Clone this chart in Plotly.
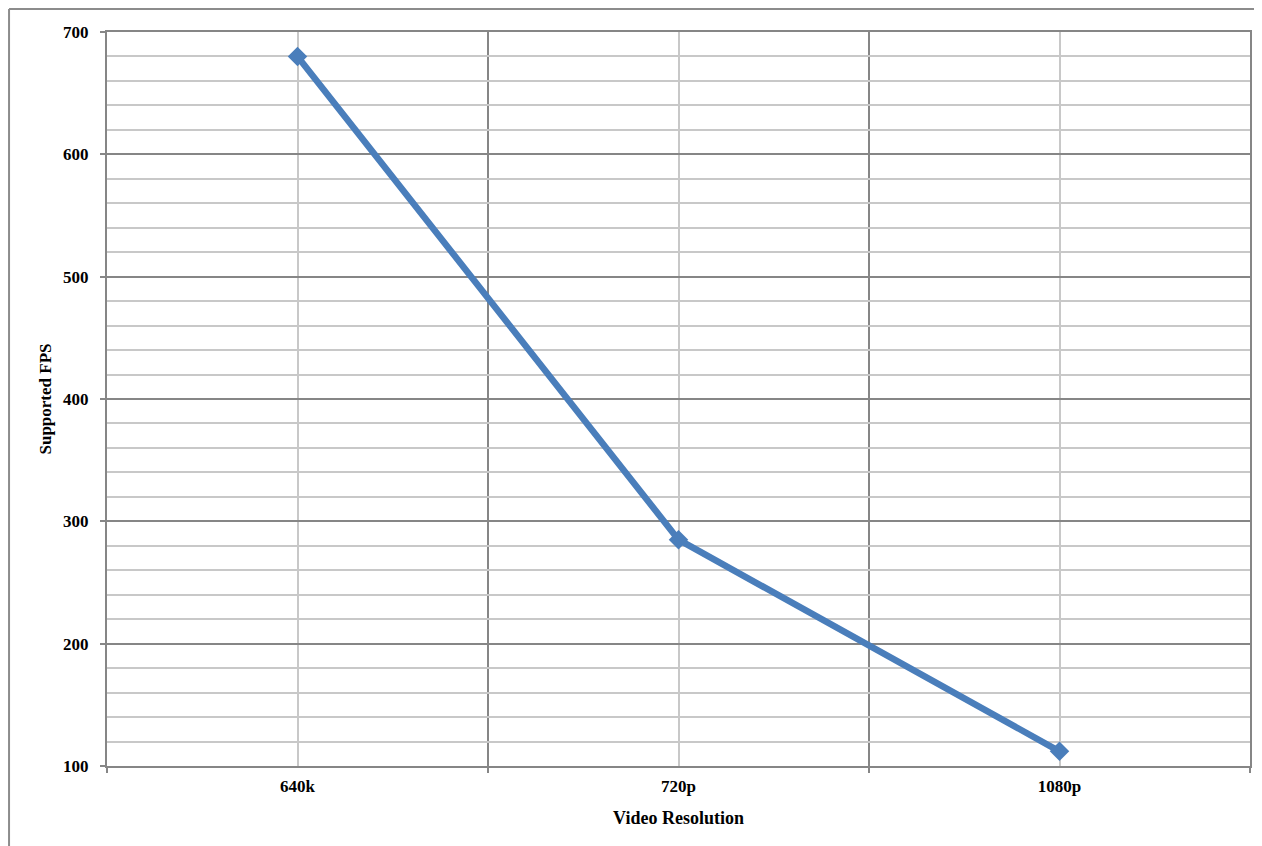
import plotly.graph_objects as go

categories = ["640k", "720p", "1080p"]
fps = [680, 285, 112]
y_ticks = [100, 200, 300, 400, 500, 600, 700]

x_pos = list(range(len(categories)))
boundaries = [i - 0.5 for i in range(len(categories) + 1)]

FONT = "Liberation Serif"
fig = go.Figure()
fig.add_trace(go.Scatter(
    x=x_pos, y=fps, mode="lines+markers",
    line=dict(color="#4a7ebb", width=6.5),
    marker=dict(symbol="diamond", size=15, color="#4a7ebb"),
    showlegend=False, hoverinfo="x+y",
))

fig.update_layout(
    width=1262, height=846,
    margin=dict(l=99, r=20, t=24, b=88),
    paper_bgcolor="white", plot_bgcolor="white",
    font=dict(family=FONT, color="black"),
    xaxis=dict(
        range=[boundaries[0], boundaries[-1]],
        tickmode="array", tickvals=x_pos, ticktext=categories,
        tickfont=dict(size=17, family=FONT, weight="bold"),
        showgrid=True, gridcolor="#c8c8c8", gridwidth=1.5,
        ticks="", showline=True, linecolor="#868686", linewidth=2, mirror=True,
        zeroline=False,
        minor=dict(tickmode="array", tickvals=boundaries, showgrid=True,
                   gridcolor="#868686", gridwidth=2, ticks="outside",
                   ticklen=5, tickcolor="#868686", tickwidth=2),
        title=dict(text="<b>Video Resolution</b>", font=dict(size=18, family=FONT), standoff=16),
        ticklabelstandoff=4,
    ),
    yaxis=dict(
        range=[100, 700], tickmode="array", tickvals=y_ticks,
        tickfont=dict(size=17, family=FONT, weight="bold"),
        showgrid=True, gridcolor="#868686", gridwidth=2,
        ticks="outside", ticklen=5, tickcolor="#868686", tickwidth=2,
        showline=True, linecolor="#868686", linewidth=2, mirror=True,
        zeroline=False,
        minor=dict(dtick=20, showgrid=True, gridcolor="#c8c8c8", gridwidth=1.5, ticks=""),
        title=dict(text="<b>Supported FPS</b>", font=dict(size=17, family=FONT), standoff=7),
        ticklabelstandoff=8,
    ),
    shapes=[
        dict(type="line", xref="paper", yref="paper", x0=-0.0857, x1=-0.0857, y0=-0.2, y1=1.0313,
             line=dict(color="#8c8c8c", width=2)),
        dict(type="line", xref="paper", yref="paper", x0=-0.0857, x1=1.2, y0=1.0313, y1=1.0313,
             line=dict(color="#8c8c8c", width=2)),
    ],
)

fig.write_html("out.html")
